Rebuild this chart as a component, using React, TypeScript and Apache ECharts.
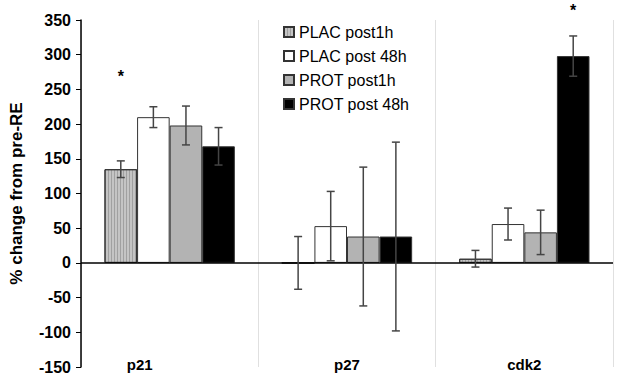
import React, { useEffect, useRef } from "react";
import * as echarts from "echarts";

const categories = ["p21", "p27", "cdk2"];
const seriesNames = ["PLAC post1h", "PLAC post 48h", "PROT post1h", "PROT post 48h"];
const placPost1h = [135, 0, 6];
const placPost48h = [210, 53, 56];
const protPost1h = [198, 38, 44];
const protPost48h = [168, 38, 298];
const placPost1hErr = [12, 38, 12];
const placPost48hErr = [15, 50, 23];
const protPost1hErr = [28, 100, 32];
const protPost48hErr = [27, 136, 29];
const starCategoryIdx = [0, 2];
const starSeriesIdx = [0, 3];
const starValues = [269, 364];
const yMin = -150;
const yMax = 350;
const yInterval = 50;

const GAP = 0.265;

export default function App() {
  const ref = useRef<HTMLDivElement>(null);
  useEffect(() => {
    if (!ref.current) return;
    const chart = echarts.init(ref.current, undefined, { renderer: "svg" });
    const values = [placPost1h, placPost48h, protPost1h, protPost48h];
    const errs = [placPost1hErr, placPost48hErr, protPost1hErr, protPost48hErr];
    const errData: number[][] = [];
    values.forEach((vals, s) => {
      vals.forEach((v, i) => errData.push([i, s, v, errs[s][i]]));
    });
    const starData = starValues.map((v, k) => [starCategoryIdx[k], starSeriesIdx[k], v]);
    const barX = (api: any, cat: number, s: number) => {
      const band = api.size([1, 0])[0];
      const groupW = band * (1 - GAP);
      const barW = groupW / 4;
      return api.coord([cat, 0])[0] - groupW / 2 + barW * (s + 0.5);
    };
    const fills = ["#c4c4c4", "#ffffff", "#b3b3b3", "#000000"];
    const font = "'Liberation Sans', Arial, sans-serif";
    chart.setOption({
      animation: false,
      textStyle: { fontFamily: font },
      grid: { left: 81, right: 12, top: 20, bottom: 8 },
      legend: {
        orient: "vertical",
        left: 283,
        top: 24,
        padding: 0,
        itemWidth: 10,
        itemHeight: 10,
        itemGap: 8,
        icon: "rect",
        data: seriesNames,
        textStyle: { fontSize: 16, color: "#000", fontFamily: font, lineHeight: 16 },
      },
      xAxis: {
        type: "category",
        data: categories,
        axisLine: { show: false, onZero: false },
        axisTick: { show: false },
        splitLine: { show: true, lineStyle: { color: "#e0e0e0", width: 1 } },
        axisLabel: {
          margin: -10,
          formatter: (v: string, i: number) => (i === 0 ? "{s|" + v + "}" : "{c|" + v + "}"),
          rich: {
            s: { fontSize: 15, fontWeight: "bold", color: "#000", fontFamily: font, padding: [0, 60, 0, 0] },
            c: { fontSize: 15, fontWeight: "bold", color: "#000", fontFamily: font },
          },
        },
      },
      yAxis: {
        type: "value",
        min: yMin,
        max: yMax,
        interval: yInterval,
        name: "% change from pre-RE",
        nameLocation: "middle",
        nameGap: 56,
        nameTextStyle: { fontSize: 17, fontWeight: "bold", color: "#000", fontFamily: font },
        axisLine: { show: true, lineStyle: { color: "#000", width: 1.5 } },
        axisTick: { show: true, length: 5, lineStyle: { color: "#000" } },
        axisLabel: { fontSize: 16, fontWeight: "bold", color: "#000", margin: 10, fontFamily: font },
        splitLine: { show: false },
      },
      series: [
        ...values.map((vals, s) => ({
          name: seriesNames[s],
          type: "bar",
          data: vals,
          barGap: "0%",
          barCategoryGap: GAP * 100 + "%",
          itemStyle: {
            color: fills[s],
            borderColor: "#333",
            borderWidth: 1,
            ...(s === 0
              ? {
                  decal: {
                    symbol: "rect",
                    symbolSize: 1,
                    dashArrayX: [1, 2],
                    dashArrayY: [5, 0],
                    color: "rgba(90,90,90,0.35)",
                    rotation: 0,
                  },
                }
              : {}),
          },
          ...(s === 0
            ? {
                markLine: {
                  silent: true,
                  symbol: "none",
                  label: { show: false },
                  lineStyle: { color: "#000", width: 1.5, type: "solid" },
                  data: [{ yAxis: 0 }],
                },
              }
            : {}),
        })),
        {
          type: "custom",
          name: "err",
          data: errData,
          z: 5,
          renderItem: (params: any, api: any) => {
            const cat = api.value(0);
            const s = api.value(1);
            const v = api.value(2);
            const e = api.value(3);
            const x = barX(api, cat, s);
            const yTop = api.coord([cat, v + e])[1];
            const yBot = api.coord([cat, v - e])[1];
            const cap = 4;
            const st = { stroke: "#454545", lineWidth: 1.5 };
            return {
              type: "group",
              children: [
                { type: "line", shape: { x1: x, y1: yTop, x2: x, y2: yBot }, style: st },
                { type: "line", shape: { x1: x - cap, y1: yTop, x2: x + cap, y2: yTop }, style: st },
                { type: "line", shape: { x1: x - cap, y1: yBot, x2: x + cap, y2: yBot }, style: st },
              ],
            };
          },
        },
        {
          type: "custom",
          name: "star",
          data: starData,
          clip: false,
          z: 6,
          renderItem: (params: any, api: any) => {
            const cat = api.value(0);
            const s = api.value(1);
            const v = api.value(2);
            const x = barX(api, cat, s);
            const y = api.coord([cat, v])[1];
            return {
              type: "text",
              x,
              y,
              style: {
                text: "*",
                fontSize: 16,
                fontWeight: "bold",
                fill: "#000",
                align: "center",
                verticalAlign: "middle",
                fontFamily: font,
              },
            };
          },
        },
      ],
    });
    return () => chart.dispose();
  }, []);
  return (
    <div
      ref={ref}
      style={{ position: "fixed", left: 0, top: 0, width: 625, height: 375, background: "#fff" }}
    />
  );
}
